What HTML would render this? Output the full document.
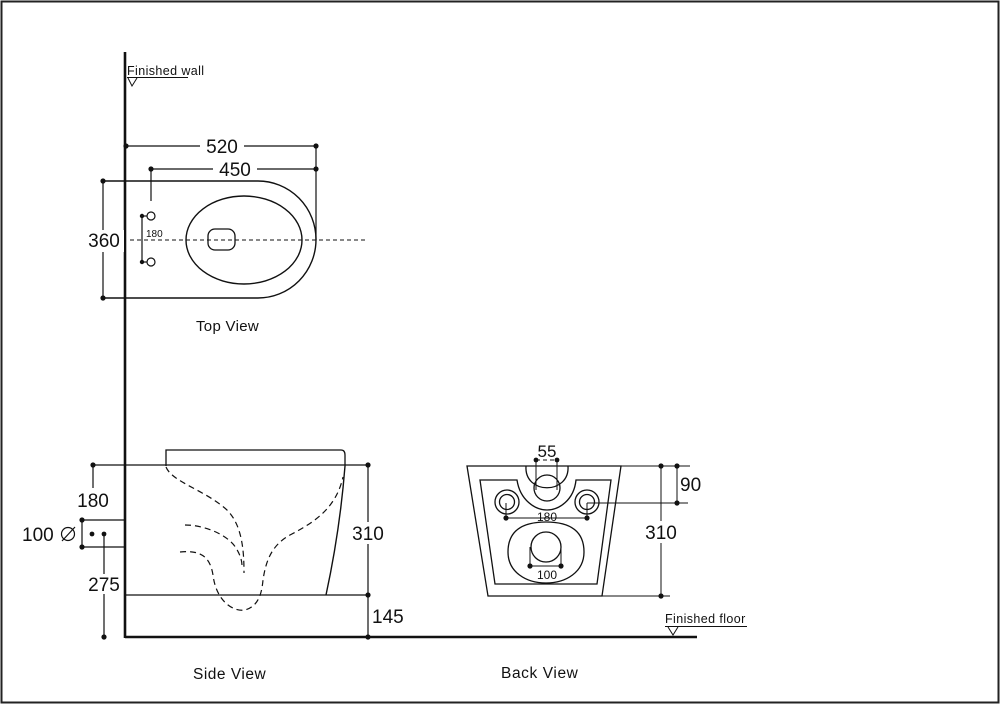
<!DOCTYPE html>
<html><head><meta charset="utf-8"><style>
html,body{margin:0;padding:0;background:#fff}
svg{display:block}
text{font-family:"Liberation Sans",sans-serif;fill:#111}
</style></head><body>
<svg width="1000" height="704" viewBox="0 0 1000 704" xmlns="http://www.w3.org/2000/svg">
<rect x="1.5" y="1.5" width="997" height="701" fill="none" stroke="#222" stroke-width="2"/>
<g stroke="#111" fill="none">
<line x1="125" y1="52" x2="125" y2="638" stroke-width="2.6"/>
<line x1="125" y1="637" x2="697" y2="637" stroke-width="2.6"/>
<line x1="127" y1="77.5" x2="188" y2="77.5" stroke-width="1"/>
<path d="M128 78 L132 86 L137 78" stroke-width="1"/>
<g stroke-width="1.2">
<line x1="126" y1="146" x2="316" y2="146"/>
<line x1="151" y1="169" x2="316" y2="169"/>
<line x1="316" y1="146" x2="316" y2="240"/>
<line x1="151" y1="169" x2="151" y2="201"/>
<path d="M103 181 H258 A58 58.5 0 0 1 258 298 H103" stroke-width="1.4"/>
<line x1="103" y1="181" x2="103" y2="298"/>
<ellipse cx="244" cy="240" rx="58" ry="44" stroke-width="1.4"/>
<rect x="208" y="229" width="27" height="21" rx="7" stroke-width="1.3"/>
<line x1="130" y1="240" x2="368" y2="240" stroke-dasharray="4,3" stroke-width="1"/>
<circle cx="151" cy="216" r="4"/><circle cx="151" cy="262" r="4"/>
<line x1="142" y1="216" x2="142" y2="262"/>
<line x1="142" y1="216" x2="147" y2="216"/><line x1="142" y1="262" x2="147" y2="262"/>
</g>
<g stroke-width="1.2">
<line x1="93" y1="465" x2="368" y2="465"/>
<line x1="126" y1="595" x2="368" y2="595"/>
<path d="M166 466 V450 H341 Q345 450 345 455 V466" stroke-width="1.3"/>
<path d="M345 466 Q340 530 326 595" stroke-width="1.4"/>
<line x1="368" y1="465" x2="368" y2="637"/>
<line x1="93" y1="465" x2="93" y2="488"/>
<line x1="82" y1="520" x2="126" y2="520"/><line x1="82" y1="547" x2="126" y2="547"/>
<line x1="82" y1="520" x2="82" y2="547"/>
<line x1="104" y1="533" x2="104" y2="637"/>
<path d="M166 467 C172 482 205 490 227 510 C242 525 244 550 244 573" stroke-dasharray="6,4"/>
<path d="M185 525 C205 525 228 535 236 548 C241 556 242 562 242 566" stroke-dasharray="6,4"/>
<path d="M180 552 C200 550 210 556 213 575 C216 600 232 612 245 610 C260 606 262 590 263 580 C266 560 272 545 290 535 C315 522 336 508 343 477" stroke-dasharray="6,4"/>
</g>
<g stroke-width="1.3">
<path d="M467 466 H621 L602 596 H488 Z"/>
<path d="M480 480 H517 C520 500 535 510 547 510 C559 510 574 500 576 480 H611 L597 584 H495 Z"/>
<path d="M526 466 C524 495 570 495 568 466"/>
<circle cx="547" cy="488" r="13"/>
<circle cx="507" cy="502" r="12"/><circle cx="507" cy="502" r="7.5"/>
<circle cx="587" cy="502" r="12"/><circle cx="587" cy="502" r="7.5"/>
<path d="M546 522 C575 522 584 535 584 552 C584 572 566 583 546 583 C526 583 508 572 508 552 C508 535 517 522 546 522 Z"/>
<circle cx="546" cy="547" r="15"/>
</g>
<g stroke-width="1">
<line x1="536" y1="460" x2="536" y2="490"/><line x1="557" y1="460" x2="557" y2="490"/>
<line x1="536" y1="460" x2="557" y2="460" stroke-dasharray="4,3"/>
<line x1="506" y1="518" x2="587" y2="518"/>
<line x1="506" y1="518" x2="506" y2="503"/><line x1="587" y1="518" x2="587" y2="503"/>
<line x1="530" y1="566" x2="561" y2="566"/>
<line x1="530" y1="566" x2="530" y2="547"/><line x1="561" y1="566" x2="561" y2="547"/>
<line x1="621" y1="466" x2="690" y2="466"/>
<line x1="587" y1="503" x2="688" y2="503"/>
<line x1="602" y1="596" x2="670" y2="596"/>
<line x1="661" y1="466" x2="661" y2="596"/>
<line x1="677" y1="466" x2="677" y2="503"/>
<line x1="665" y1="626.5" x2="747" y2="626.5"/>
<path d="M668 627 L673 635 L678 627"/>
</g>
</g>
<g fill="#fff">
<rect x="200" y="136" width="44" height="20"/>
<rect x="213" y="159" width="44" height="20"/>
<rect x="84" y="230" width="40" height="22"/>
<rect x="350" y="522" width="38" height="22"/>
<rect x="78" y="490" width="32" height="20"/>
<rect x="90" y="574" width="30" height="20"/>
<rect x="642" y="521" width="38" height="22"/>
</g>
<g fill="#111">
<circle cx="126" cy="146" r="2.6"/><circle cx="316" cy="146" r="2.6"/>
<circle cx="151" cy="169" r="2.6"/><circle cx="316" cy="169" r="2.6"/>
<circle cx="103" cy="181" r="2.6"/><circle cx="103" cy="298" r="2.6"/>
<circle cx="142" cy="216" r="2.2"/><circle cx="142" cy="262" r="2.2"/>
<circle cx="93" cy="465" r="2.6"/><circle cx="368" cy="465" r="2.6"/><circle cx="368" cy="595" r="2.6"/><circle cx="368" cy="637" r="2.6"/>
<circle cx="82" cy="520" r="2.6"/><circle cx="82" cy="547" r="2.6"/>
<circle cx="92" cy="534" r="2.4"/><circle cx="104" cy="534" r="2.4"/><circle cx="104" cy="637" r="2.6"/>
<circle cx="536" cy="460" r="2.4"/><circle cx="557" cy="460" r="2.4"/>
<circle cx="506" cy="518" r="2.6"/><circle cx="587" cy="518" r="2.6"/>
<circle cx="530" cy="566" r="2.6"/><circle cx="561" cy="566" r="2.6"/>
<circle cx="661" cy="466" r="2.6"/><circle cx="677" cy="466" r="2.6"/><circle cx="677" cy="503" r="2.6"/><circle cx="661" cy="596" r="2.6"/>
</g>
<g stroke="#111" stroke-width="1.2" fill="none">
<circle cx="68" cy="534" r="6.5"/><line x1="62" y1="541" x2="75" y2="527"/>
</g>
<text x="127" y="75" font-size="12.5" letter-spacing="0.4">Finished wall</text>
<text x="222" y="153" font-size="19" text-anchor="middle">520</text>
<text x="235" y="176" font-size="19" text-anchor="middle">450</text>
<text x="104" y="247" font-size="19" text-anchor="middle">360</text>
<text x="146" y="237" font-size="10">180</text>
<text x="196" y="331" font-size="15" letter-spacing="0.3">Top View</text>
<text x="93" y="507" font-size="19" text-anchor="middle">180</text>
<text x="22" y="541" font-size="19">100</text>
<text x="104" y="591" font-size="19" text-anchor="middle">275</text>
<text x="368" y="540" font-size="19" text-anchor="middle">310</text>
<text x="372" y="623" font-size="19">145</text>
<text x="547" y="457" font-size="17" text-anchor="middle">55</text>
<text x="547" y="521" font-size="12" text-anchor="middle">180</text>
<text x="547" y="579" font-size="12" text-anchor="middle">100</text>
<text x="661" y="539" font-size="19" text-anchor="middle">310</text>
<text x="680" y="491" font-size="19">90</text>
<text x="665" y="623" font-size="12.5" letter-spacing="0.4">Finished floor</text>
<text x="193" y="679" font-size="15.5" letter-spacing="0.5">Side View</text>
<text x="501" y="678" font-size="15.5" letter-spacing="0.6">Back View</text>
</svg>
</body></html>
